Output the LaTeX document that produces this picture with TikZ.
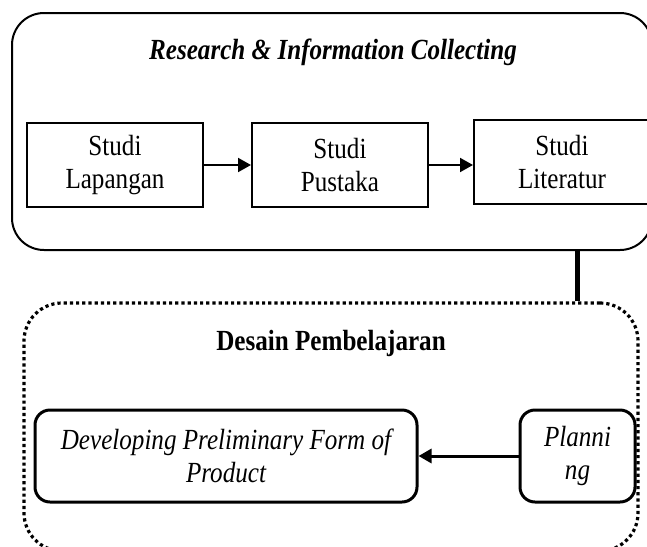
\documentclass[tikz,border=0pt]{standalone}
\usepackage{fontspec}
\setmainfont[FakeStretch=0.86]{Liberation Serif}
\usetikzlibrary{arrows.meta, positioning}
\tikzset{
  grp/.style  = {draw, rounded corners=16pt, line width=1pt,
                 minimum width=320pt, minimum height=118.5pt},
  dgrp/.style = {draw, rounded corners=19pt, line width=1.6pt,
                 dash pattern=on 1.6pt off 1.5pt,
                 minimum width=307pt, minimum height=124pt},
  stu/.style  = {draw, line width=1pt, align=center,
                 font=\fontsize{14.6}{16.5}\selectfont,
                 minimum width=88pt, minimum height=42pt, inner sep=2pt},
  dsn/.style  = {draw, rounded corners=7.5pt, line width=1.5pt, align=center,
                 font=\fontsize{14.6}{16.5}\selectfont\itshape,
                 minimum height=46pt, inner sep=2pt},
  ttl/.style  = {inner sep=0pt, font=\fontsize{14.6}{16}\selectfont\bfseries},
  fl/.style   = {-{Triangle[length=6.5pt,width=7pt]}, line width=1pt},
}

\begin{document}
\begin{tikzpicture}[x=0.5pt, y=-0.5pt]
  \useasboundingbox (0,0) rectangle (647,546);
  % research & information collecting
  \node[grp] (research) at (332,131.5) {};
  \node[ttl, font=\fontsize{14.6}{16}\selectfont\bfseries\itshape] (rtitle) at (333,52)
    {Research \& Information Collecting};
  \node[stu] (lap) at (115,165) {Studi\\Lapangan};
  \node[stu, right=23.5pt of lap] (pus) {Studi\\Pustaka};
  \node[stu, right=22pt of pus, yshift=1.5pt] (lit) {Studi\\Literatur};
  \draw[fl] (lap) -- (pus);
  \draw[fl] (pus) -- (lit.west |- pus);
  % desain pembelajaran
  \node[dgrp] (desain) at (331,427) {};
  \node[ttl] (dtitle) at (331,343) {Desain Pembelajaran};
  \node[dsn, minimum width=191pt] (dev) at (226,456)
    {Developing Preliminary Form of\\Product};
  \node[dsn, minimum width=57.5pt, right=50pt of dev] (plan) {Planni\\ng};
  \draw[fl, line width=1.5pt] (plan) -- (dev);
  \draw[line width=2.5pt] (research.south -| plan) -- (desain.north -| plan);
\end{tikzpicture}
\end{document}
